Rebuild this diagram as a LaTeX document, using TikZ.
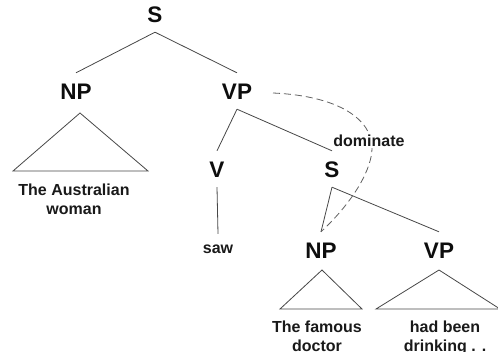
\documentclass[tikz,border=0pt]{standalone}
\usepackage{fontspec}
\setmainfont{Liberation Sans}
\begin{document}
\begin{tikzpicture}[x=1pt,y=-1pt,
  cat/.style={font=\fontsize{22.5}{26}\selectfont\bfseries, text=black!95, text height=16pt, text depth=0pt, inner xsep=2pt, inner ysep=10pt},
  word/.style={font=\fontsize{16}{19}\selectfont\bfseries, text=black!90, text height=11pt, text depth=0pt, inner ysep=8pt},
  leaf/.style={font=\fontsize{16}{19}\selectfont\bfseries, text=black!90, align=center, inner sep=0pt},
  edge/.style={draw=black!72, line width=0.8pt},
  dom/.style={draw=black!62, line width=0.8pt, dash pattern=on 7pt off 4pt},
  lbl/.style={font=\fontsize{16}{19}\selectfont\bfseries, text=black!90, fill=white, inner xsep=1pt, inner ysep=2pt}]
\useasboundingbox (0,0) rectangle (498,351);
\clip (0,0) rectangle (498,351);
% category nodes
\node[cat] (s)   at (155,14)  {S};
\node[cat] (np)  at (76,91)   {NP};
\node[cat] (vp)  at (237,91)  {VP};
\node[cat] (v)   at (217,169) {V};
\node[cat] (s2)  at (332,169) {S};
\node[cat] (np2) at (321,250) {NP};
\node[cat] (vp2) at (439,250) {VP};
\node[word] (saw) at (218,247.5) {saw};
% tree edges
\draw[edge] (s.south) -- (np.north);
\draw[edge] (s.south) -- (vp.north);
\draw[edge] (vp.south) -- (v.north);
\draw[edge] (vp.south) -- (s2.north);
\draw[edge] (v.south) -- (saw.north);
\draw[edge] (s2.south) -- (np2.north);
\draw[edge] (s2.south) -- (vp2.north);
% triangles
\coordinate (t1a) at (80,113);  \coordinate (t1b) at (13,171);  \coordinate (t1c) at (148,171);
\coordinate (t2a) at (322,270); \coordinate (t2b) at (280,309); \coordinate (t2c) at (362,309);
\coordinate (t3a) at (439,270); \coordinate (t3b) at (376,309); \coordinate (t3c) at (500,309);
\draw[edge] (t1a) -- (t1b) -- (t1c) -- cycle;
\draw[edge] (t2a) -- (t2b) -- (t2c) -- cycle;
\draw[edge] (t3a) -- (t3b) -- (t3c) -- cycle;
% leaves
\node[leaf] (l1) at (74,199.5)  {The Australian\\woman};
\node[leaf] (l2) at (317,336.5) {The famous\\doctor};
\node[leaf] (l3) at (445,338.2) {had been\\drinking . .};
% dominate relation
\coordinate (domA) at (273,93);
\coordinate (domM) at (372,148);
\draw[dom] (domA) .. controls (340,96) and (372,120) .. (domM)
  .. controls (372,168) and (355,200) .. (np2.north);
\node[lbl] (dlab) at (369,140.5) {dominate};
\end{tikzpicture}
\end{document}
